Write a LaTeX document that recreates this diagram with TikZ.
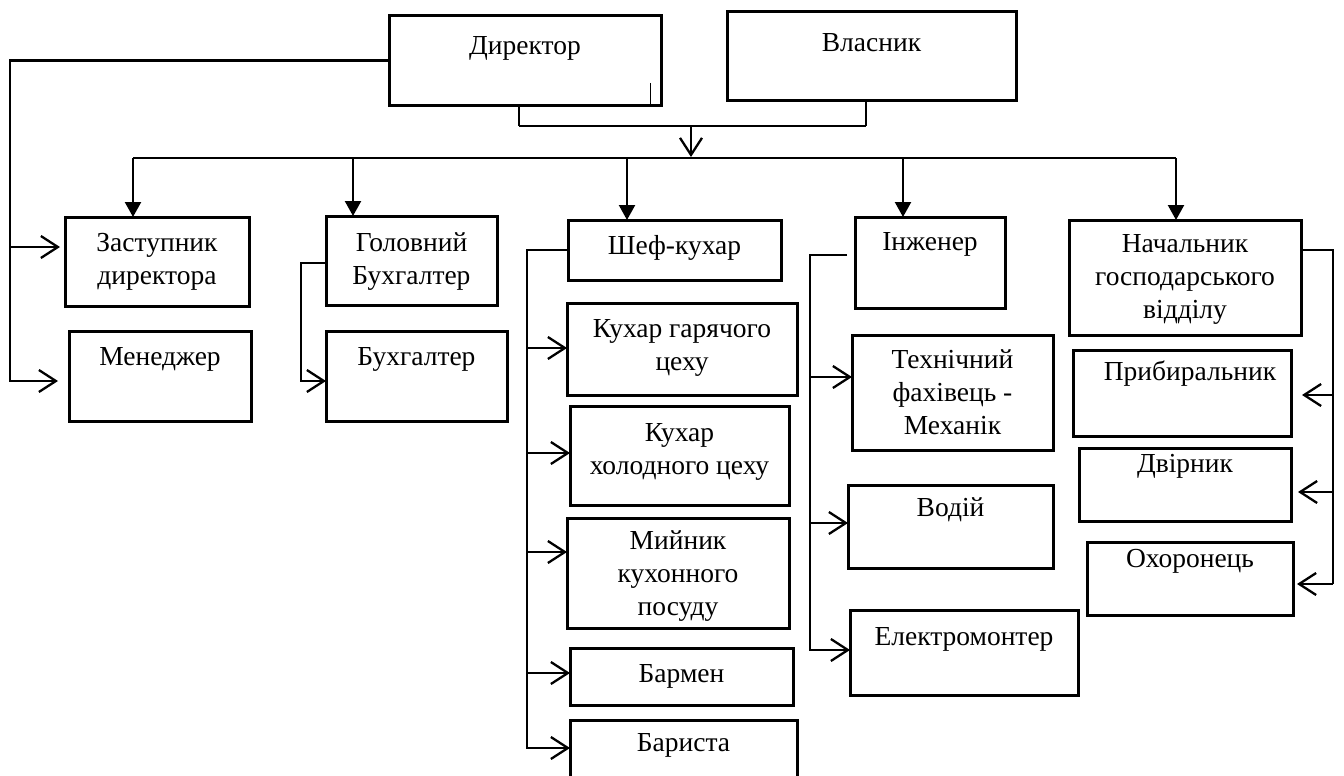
\documentclass[tikz,border=0pt]{standalone}
\usepackage{fontspec}
\setmainfont{Liberation Serif}
\usetikzlibrary{arrows.meta,calc}
\tikzset{
  bx/.style={draw, line width=3pt, rectangle, inner sep=0pt, outer sep=0pt},
  txt/.style={font=\fontsize{27.5}{33}\selectfont, align=center, inner sep=0pt},
  conn/.style={line width=2.3pt},
  thinconn/.style={line width=1.4pt},
  bus/.style={line width=1.5pt},
  oarr/.style={-{Straight Barb[length=17pt,width=22pt]}},
  farr/.style={-{Triangle[length=15pt,width=16pt]}},
}
\newcommand\ob[7]{%
  \node[bx, minimum width={#4-#2}, minimum height={#5-#3}] (#1) at ({(#2+#4)/2},{(#3+#5)/2}) {};
  \node[txt] (#1-t) at ({(#2+#4)/2},#6) {#7};}
\begin{document}
\begin{tikzpicture}[x=1pt,y=-1pt]
\useasboundingbox (0,0) rectangle (1344,776);
% boxes
\ob{dir}{389}{16}{661}{105}{48}{Директор}
\ob{vl}{727}{12}{1016}{100}{43}{Власник}
\ob{zast}{65}{217}{249}{306}{262}{Заступник\\директора}
\ob{mgr}{69}{331}{251}{421}{359}{Менеджер}
\ob{gb}{326}{216}{497}{305}{262}{Головний\\Бухгалтер}
\ob{bh}{326}{331}{507}{421}{359}{Бухгалтер}
\ob{chef}{568}{220}{781}{280}{248}{Шеф-кухар}
\ob{kg}{567}{303}{797}{395}{348}{Кухар гарячого\\цеху}
\ob{kh}{570}{406}{789}{505}{452}{Кухар\\холодного цеху}
\ob{mk}{567}{518}{789}{628}{576}{Мийник\\кухонного\\посуду}
\ob{bar}{570}{648}{793}{705}{676}{Бармен}
\ob{bst}{570}{720}{797}{782}{745}{Бариста}
\ob{eng}{855}{217}{1005}{308}{244}{Інженер}
\ob{tech}{852}{335}{1053}{450}{392}{Технічний\\фахівець -\\Механік}
\ob{vod}{848}{485}{1053}{568}{510}{Водій}
\ob{el}{850}{610}{1078}{695}{639}{Електромонтер}
\ob{nach}{1069}{220}{1301}{335}{279}{Начальник\\господарського\\відділу}
\node[bx, minimum width=218, minimum height=86] (prb) at (1182,393) {};
\node[txt] (prb-t) at (1190,374) {Прибиральник};
\ob{dvr}{1079}{448}{1291}{521}{466}{Двірник}
\ob{oxr}{1087}{542}{1293}{615}{561}{Охоронець}
% small stroke inside the director box
\draw[line width=1pt] (650,83) -- (650,104);
% director + owner merge
\coordinate (mL) at (519,126);
\coordinate (mR) at (866,126);
\coordinate (mA) at (691,126);
\coordinate (busA) at (691,157);
\draw[thinconn] (dir.south -| mL) -- (mL);
\draw[thinconn] (vl.south -| mR) -- (mR);
\draw[conn] (mL) -- (mR);
\draw[conn,oarr] (mA) -- (busA);
% bus and drops
\coordinate (b1) at (133,158);
\coordinate (b2) at (353,158);
\coordinate (b3) at (627,158);
\coordinate (b4) at (903,158);
\coordinate (b5) at (1176,158);
\draw[bus] (b1) -- (b5);
\draw[conn,farr] (b1) -- (zast.north -| b1);
\draw[conn,farr] (b2) -- (gb.north -| b2);
\draw[conn,farr] (b3) -- (chef.north -| b3);
\draw[conn,farr] (b4) -- (eng.north -| b4);
\draw[conn,farr] (b5) -- (nach.north -| b5);
% director left branch
\coordinate (L0) at (10,60);
\coordinate (L1) at (10,247);
\coordinate (L2) at (10,381);
\draw[conn,oarr,shorten >=11pt] (dir.west) -- (dir.west -| L0) -- (L2) -- (mgr.west |- L2);
\draw[conn,oarr,shorten >=5pt] (L1) -- (zast.west |- L1);
% chief accountant
\coordinate (G0) at (301,263);
\coordinate (G1) at (301,381);
\draw[conn,oarr] (gb.west |- G0) -- (G0) -- (G1) -- (bh.west |- G1);
% chef
\coordinate (C0) at (527,250);
\coordinate (C1) at (527,348);
\coordinate (C2) at (527,453);
\coordinate (C3) at (527,552);
\coordinate (C4) at (527,673);
\coordinate (C5) at (527,748);
\draw[conn,oarr] (chef.west |- C0) -- (C0) -- (C5) -- (bst.west |- C5);
\draw[conn,oarr] (C1) -- (kg.west |- C1);
\draw[conn,oarr] (C2) -- (kh.west |- C2);
\draw[conn,oarr] (C3) -- (mk.west |- C3);
\draw[conn,oarr] (C4) -- (bar.west |- C4);
% engineer
\coordinate (Es) at (847,255);
\coordinate (E0) at (810,255);
\coordinate (E1) at (810,377);
\coordinate (E2) at (810,523);
\coordinate (E3) at (810,650);
\draw[conn,oarr] (Es) -- (E0) -- (E3) -- (el.west |- E3);
\draw[conn,oarr] (E1) -- (tech.west |- E1);
\draw[conn,oarr] (E2) -- (vod.west |- E2);
% household head
\coordinate (R0) at (1333,250);
\coordinate (R1) at (1333,395);
\coordinate (R2) at (1333,492);
\coordinate (R3) at (1333,584);
\draw[thinconn] (nach.east |- R0) -- (R0) -- (R3);
\draw[conn,oarr,shorten >=11pt] (R1) -- (prb.east |- R1);
\draw[conn,oarr,shorten >=7pt] (R2) -- (dvr.east |- R2);
\draw[conn,oarr,shorten >=4pt] (R3) -- (oxr.east |- R3);
\end{tikzpicture}
\end{document}
